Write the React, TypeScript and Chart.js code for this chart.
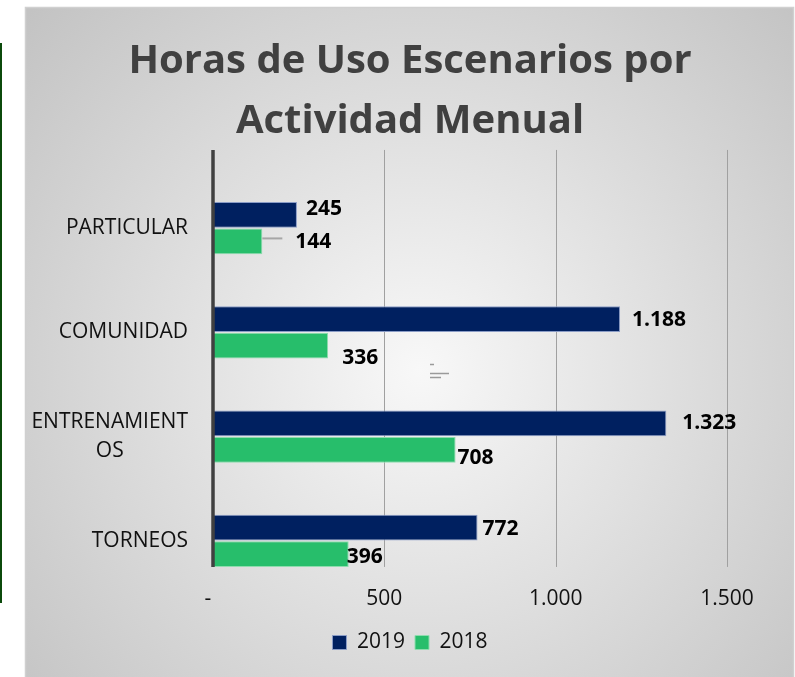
import React, { useEffect, useRef } from 'react';
import { Chart, registerables } from 'chart.js';

Chart.register(...registerables);

const categories: string[][] = [['PARTICULAR'], ['COMUNIDAD'], ['ENTRENAMIENT', 'OS'], ['TORNEOS']];
const series2019 = [245, 1188, 1323, 772];
const series2018 = [144, 336, 708, 396];
const seriesNames = ['2019', '2018'];
const xTickValues = [0, 500, 1000, 1500];
const titleLines = ['Horas de Uso Escenarios por', 'Actividad Menual'];

const FONT = "'Open Sans', 'DejaVu Sans', sans-serif";

function fmt(v: number): string {
  if (v === 0) return '-';
  return String(v).replace(/\B(?=(\d{3})+(?!\d))/g, '.');
}

const backgroundPlugin = {
  id: 'bgBox',
  beforeDraw(chart: any) {
    const ctx = chart.ctx;
    const W = chart.width;
    const H = chart.height;
    ctx.save();
    ctx.fillStyle = '#ffffff';
    ctx.fillRect(0, 0, W, H);
    ctx.fillStyle = '#0b4a0b';
    ctx.fillRect(0, 43, 2, 560);
    const g = ctx.createRadialGradient(420, 370, 0, 420, 370, 560);
    g.addColorStop(0, '#f8f8f8');
    g.addColorStop(1, '#c0c0c0');
    ctx.fillStyle = g;
    ctx.fillRect(25, 7, 769, H);
    ctx.strokeStyle = '#d0d0d0';
    ctx.lineWidth = 1.5;
    ctx.strokeRect(25.5, 7.5, 768, H + 10);
    ctx.restore();
  },
};

// axis frame: grid lines, value axis labels (drawn a quarter band above the category bands)
function frameExtent(chart: any) {
  const { top, bottom } = chart.chartArea;
  const shift = (bottom - top) / categories.length / 4;
  return { y0: top - shift, y1: bottom - shift };
}

const gridPlugin = {
  id: 'gridFrame',
  beforeDatasetsDraw(chart: any) {
    const ctx = chart.ctx;
    const xs = chart.scales.x;
    const { y0, y1 } = frameExtent(chart);
    ctx.save();
    ctx.strokeStyle = '#a0a0a0';
    ctx.lineWidth = 1;
    xTickValues.forEach((v) => {
      if (v === 0) return;
      const x = Math.round(xs.getPixelForValue(v)) + 0.5;
      ctx.beginPath();
      ctx.moveTo(x, y0);
      ctx.lineTo(x, y1);
      ctx.stroke();
    });
    ctx.font = `21px ${FONT}`;
    ctx.fillStyle = '#111111';
    ctx.textAlign = 'center';
    ctx.textBaseline = 'middle';
    xTickValues.forEach((v) => {
      ctx.fillText(fmt(v), xs.getPixelForValue(v) - (v === 0 ? 5 : 0), y1 + 32);
    });
    ctx.restore();
  },
  afterDatasetsDraw(chart: any) {
    const ctx = chart.ctx;
    const { y0, y1 } = frameExtent(chart);
    const x = chart.chartArea.left;
    ctx.save();
    ctx.strokeStyle = '#404040';
    ctx.lineWidth = 3.5;
    ctx.beginPath();
    ctx.moveTo(x, y0);
    ctx.lineTo(x, y1);
    ctx.stroke();
    ctx.restore();
  },
};

const categoryLabelPlugin = {
  id: 'catLabels',
  afterDraw(chart: any) {
    const ctx = chart.ctx;
    const yScale = chart.scales.y;
    const right = chart.chartArea.left - 25;
    ctx.save();
    ctx.font = `21px ${FONT}`;
    ctx.fillStyle = '#111111';
    ctx.textBaseline = 'middle';
    ctx.textAlign = 'center';
    const lh = 29;
    categories.forEach((lines, i) => {
      const cy = yScale.getPixelForValue(i);
      const maxW = Math.max(...lines.map((l) => ctx.measureText(l).width));
      const cx = right - maxW / 2;
      const y0 = cy - ((lines.length - 1) * lh) / 2;
      lines.forEach((l, j) => ctx.fillText(l, cx, y0 + j * lh));
    });
    ctx.restore();
  },
};

const labelOffsets = [
  [{ dx: 9, dy: -6 }, { dx: 12, dy: 1 }, { dx: 16, dy: 0 }, { dx: 5, dy: 1 }],
  [{ dx: 33, dy: 1 }, { dx: 14, dy: 12 }, { dx: 2, dy: 8 }, { dx: -2, dy: 3 }],
];

const dataLabelPlugin = {
  id: 'dataLabels',
  afterDatasetsDraw(chart: any) {
    const ctx = chart.ctx;
    ctx.save();
    // leader line for the first small bar
    const m1 = chart.getDatasetMeta(1);
    const b = m1.data[0];
    ctx.strokeStyle = '#a6a6a6';
    ctx.lineWidth = 2;
    ctx.beginPath();
    ctx.moveTo(b.x, b.y - 3);
    ctx.lineTo(b.x + 20, b.y - 3);
    ctx.stroke();
    // stray marks
    ctx.strokeStyle = '#9a9a9a';
    ctx.lineWidth = 1.5;
    ctx.beginPath();
    ctx.moveTo(430, 364.5); ctx.lineTo(434, 364.5);
    ctx.moveTo(430, 373.5); ctx.lineTo(449, 373.5);
    ctx.moveTo(430, 377.5); ctx.lineTo(441, 377.5);
    ctx.stroke();

    ctx.font = `bold 21px ${FONT}`;
    ctx.fillStyle = '#000000';
    ctx.textAlign = 'left';
    ctx.textBaseline = 'middle';
    chart.data.datasets.forEach((ds: any, di: number) => {
      const meta = chart.getDatasetMeta(di);
      meta.data.forEach((bar: any, i: number) => {
        const o = labelOffsets[di][i];
        ctx.fillText(fmt(ds.data[i]), bar.x + o.dx, bar.y + o.dy);
      });
    });
    ctx.restore();
  },
};

export default function App() {
  const ref = useRef<HTMLCanvasElement>(null);
  useEffect(() => {
    document.body.style.margin = '0';
    const canvas = ref.current!;
    Chart.defaults.font.family = FONT;
    const chart = new Chart(canvas, {
      type: 'bar',
      data: {
        labels: categories.map((c) => c.join('')),
        datasets: [
          {
            label: seriesNames[0],
            data: series2019,
            backgroundColor: '#002060',
            borderColor: '#8a9cc6',
            borderWidth: 1,
            barPercentage: 0.97,
            categoryPercentage: 0.51,
          },
          {
            label: seriesNames[1],
            data: series2018,
            backgroundColor: '#27be6b',
            borderColor: '#8fdcae',
            borderWidth: 1,
            barPercentage: 0.97,
            categoryPercentage: 0.51,
          },
        ],
      },
      options: {
        animation: false,
        responsive: false,
        indexAxis: 'y',
        layout: { padding: { left: 25, right: 0, top: 0, bottom: 14 } },
        scales: {
          x: {
            min: 0,
            max: 1500,
            ticks: { display: false, stepSize: 500 },
            grid: { display: false },
            border: { display: false },
            afterFit: (s: any) => {
              s.height = 29;
            },
          },
          y: {
            ticks: { display: false },
            grid: { display: false },
            border: { display: false },
            afterFit: (s: any) => {
              s.width = 188;
            },
          },
          yRight: {
            type: 'linear',
            position: 'right',
            display: true,
            ticks: { display: false },
            grid: { display: false },
            border: { display: false },
            afterFit: (s: any) => {
              s.width = 68;
            },
          },
        },
        plugins: {
          title: {
            display: true,
            text: titleLines,
            font: { size: 40, weight: 'bold', lineHeight: 1.5 },
            color: '#404040',
            padding: { top: 32, bottom: 24 },
          },
          legend: {
            position: 'bottom',
            labels: {
              font: { size: 21 },
              color: '#111111',
              boxWidth: 14,
              boxHeight: 14,
              padding: 10,
            },
          },
          tooltip: { enabled: false },
        },
      },
      plugins: [backgroundPlugin, gridPlugin, categoryLabelPlugin, dataLabelPlugin],
    } as any);
    return () => chart.destroy();
  }, []);
  return <canvas ref={ref} width={795} height={677} style={{ display: 'block', width: 795, height: 677 }} />;
}
